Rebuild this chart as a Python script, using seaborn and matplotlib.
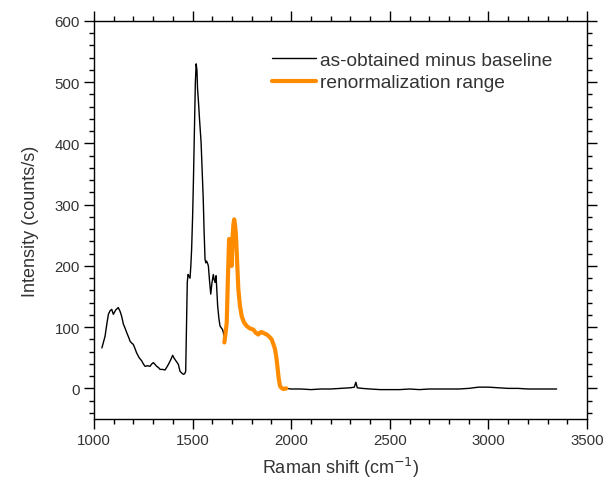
import numpy as np
import pandas as pd
import matplotlib
matplotlib.use("Agg")
import matplotlib.pyplot as plt
import seaborn as sns

raman_shift = [1040, 1056, 1065, 1073, 1082, 1090, 1098, 1110, 1123, 1132, 1140, 1149, 1158,
               1166, 1175, 1183, 1191, 1199, 1208, 1216, 1229, 1242, 1250, 1259, 1272, 1284,
               1293, 1301, 1310, 1318, 1327, 1335, 1348, 1360, 1368, 1377, 1388, 1399, 1405,
               1411, 1420, 1428, 1436, 1445, 1453, 1460, 1465, 1470, 1473, 1477, 1480, 1487,
               1491, 1495, 1500, 1504, 1510, 1514, 1518, 1522, 1525, 1529, 1535, 1543, 1548,
               1554, 1558, 1563, 1567, 1571, 1576, 1580, 1586, 1592, 1598, 1605, 1609, 1614,
               1619, 1623, 1627, 1633, 1639, 1645, 1652, 1657, 1661, 1667, 1673, 1679, 1685,
               1689, 1693, 1698, 1703, 1707, 1711, 1716, 1720, 1726, 1732, 1740, 1749, 1760,
               1774, 1790, 1808, 1820, 1833, 1841, 1850, 1862, 1876, 1890, 1901, 1910, 1918,
               1925, 1930, 1936, 1943, 1950, 1960, 1975, 2000, 2050, 2100, 2150, 2200, 2250,
               2300, 2320, 2328, 2335, 2360, 2400, 2450, 2500, 2550, 2600, 2650, 2700, 2750,
               2800, 2850, 2900, 2950, 3000, 3050, 3100, 3150, 3200, 3250, 3300, 3346]
intensity = [66, 85, 105, 121, 127, 129, 121, 128, 132, 126, 118, 105, 98,
             91, 84, 77, 74, 72, 65, 58, 50, 45, 40, 36, 37, 36,
             40, 42, 39, 36, 34, 31, 31, 30, 34, 39, 46, 54, 50,
             47, 43, 39, 28, 25, 23, 24, 28, 120, 173, 186, 184, 180,
             200, 227, 280, 336, 430, 500, 530, 520, 490, 472, 440, 402, 360,
             309, 260, 211, 205, 208, 204, 200, 175, 154, 172, 186, 178, 173,
             184, 160, 135, 115, 102, 99, 96, 90, 75, 90, 107, 180, 244,
             242, 238, 200, 249, 268, 276, 265, 249, 205, 162, 135, 118, 108,
             102, 98, 96, 91, 88, 91, 92, 90, 88, 84, 80, 72, 64,
             50, 36, 18, 4, 1, -1, 0, -1, -1, -2, -1, -1, 0,
             1, 2, 10, 1, 0, -1, -2, -2, -2, -1, -2, -1, -1,
             -1, -1, 0, 2, 2, 1, 0, 0, -1, -1, -1, -1]
renorm_range = (1661, 1975)

df = pd.DataFrame({"x": raman_shift, "y": intensity})
df_renorm = df[(df.x >= renorm_range[0]) & (df.x <= renorm_range[1])]

sns.set_theme(style="ticks")
plt.rcParams['font.family'] = ['Liberation Sans', 'DejaVu Sans']
text_color = "#333333"

fig = plt.figure(figsize=(6.03, 4.81), dpi=100)
ax = fig.add_axes([94/603, 1-420/481, (587-94)/603, (420-22)/481])

sns.lineplot(data=df, x="x", y="y", ax=ax, color="black", linewidth=1.0,
             label="as-obtained minus baseline", sort=False)
sns.lineplot(data=df_renorm, x="x", y="y", ax=ax, color="#FF8C00", linewidth=3.0,
             label="renormalization range", sort=False)

ax.set_xlim(1000, 3500)
ax.set_ylim(-50, 600)
ax.set_xticks([1000, 1500, 2000, 2500, 3000, 3500])
ax.set_yticks([0, 100, 200, 300, 400, 500, 600])
ax.set_xticks(np.arange(1000, 3501, 100), minor=True)
ax.set_yticks(np.arange(-40, 601, 20), minor=True)

for s in ax.spines.values():
    s.set_visible(True)
    s.set_linewidth(1.0)
    s.set_color("black")
ax.tick_params(which="both", direction="out", top=True, right=True,
               labeltop=False, labelright=False, color="black", width=1.0,
               labelcolor=text_color)
ax.tick_params(which="major", length=7, labelsize=10.8, pad=3)
ax.tick_params(which="minor", length=3.5)

ax.set_xlabel("Raman shift (cm$^{-1}$)", fontsize=13, labelpad=6, color=text_color)
ax.set_ylabel("Intensity (counts/s)", fontsize=13, labelpad=11, color=text_color)

leg = ax.legend(loc="upper right", frameon=False, fontsize=13.8, handlelength=2.3,
                handletextpad=0.2, borderaxespad=0.0, labelspacing=0.25,
                bbox_to_anchor=(0.945, 0.942))
for t in leg.get_texts():
    t.set_color(text_color)

fig.savefig("out.png", dpi=100)
